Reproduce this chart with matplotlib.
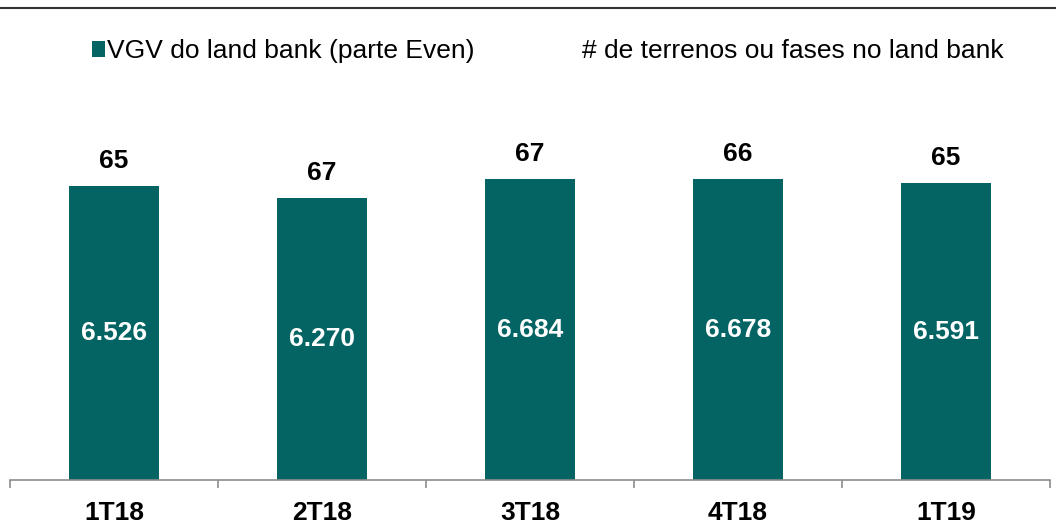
import matplotlib.pyplot as plt
from matplotlib.patches import Patch
from matplotlib.lines import Line2D

plt.rcParams['font.family'] = ['Liberation Sans', 'DejaVu Sans']

quarters = ["1T18", "2T18", "3T18", "4T18", "1T19"]
vgv = [6526, 6270, 6684, 6678, 6591]
terrenos = [65, 67, 67, 66, 65]

teal = "#046464"

fig = plt.figure(figsize=(10.56, 5.24), dpi=100)
ax = fig.add_axes([10 / 1056, 1 - 480 / 524, 1040 / 1056, 360 / 524])

x = list(range(len(quarters)))
bars = ax.bar(x, vgv, width=0.43, color=teal, zorder=2)

for xi, v, n in zip(x, vgv, terrenos):
    ax.text(xi, v / 2, f"{v:,}".replace(",", "."), ha="center", va="center",
            color="white", fontsize=19, fontweight="bold")
    ax.annotate(str(n), (xi, v), xytext=(0, 18), textcoords="offset points",
                ha="center", va="center", fontsize=19, fontweight="bold")

ax.set_xlim(-0.5, 4.5)
ax.set_ylim(0, 8000)
ax.set_yticks([])
for s in ["top", "right", "left"]:
    ax.spines[s].set_visible(False)
ax.spines["bottom"].set_color("#8c8c8c")
ax.spines["bottom"].set_linewidth(1.2)

ax.set_xticks([i - 0.5 for i in range(len(quarters) + 1)])
ax.set_xticklabels([])
ax.tick_params(axis="x", which="major", length=6, color="#8c8c8c", width=1.2)
ax.set_xticks(x, minor=True)
ax.set_xticklabels(quarters, minor=True, fontsize=19, fontweight="bold")
ax.tick_params(axis="x", which="minor", length=0, pad=15)

handles = [Patch(facecolor=teal, edgecolor="none"),
           Line2D([], [], color="none")]
labels = ["VGV do land bank (parte Even)", "# de terrenos ou fases no land bank"]
fig.legend(handles, labels, ncol=2, loc="center", bbox_to_anchor=(548 / 1056, 1 - 51 / 524),
           frameon=False, fontsize=19, handlelength=0.5, handleheight=0.55,
           handletextpad=0.08, columnspacing=3.5)

fig.add_artist(Line2D([0, 1], [1 - 8 / 524, 1 - 8 / 524], color="#333333", linewidth=1.5))

fig.savefig("out.png", dpi=100)
